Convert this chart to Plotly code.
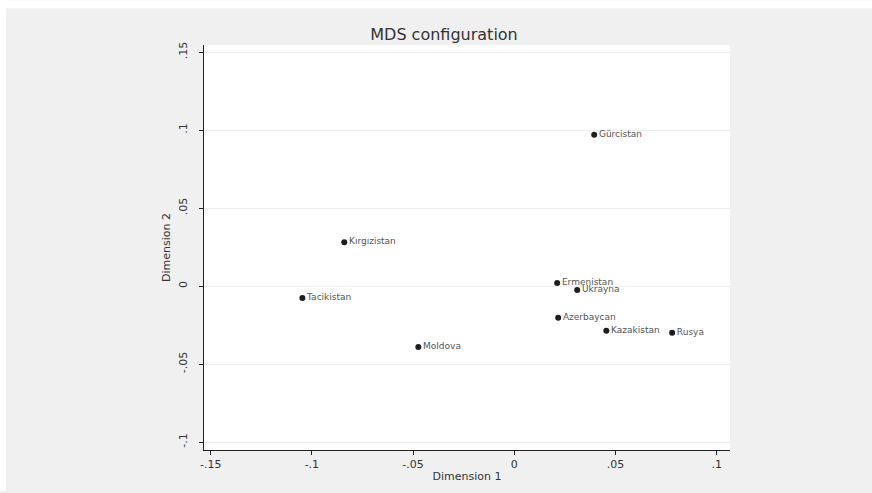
import plotly.graph_objects as go

countries = ["Gürcistan", "Kırgızistan", "Tacikistan", "Moldova", "Ermenistan",
             "Ukrayna", "Azerbaycan", "Kazakistan", "Rusya"]
dim1 = [0.0395, -0.0840, -0.1047, -0.0474, 0.0212, 0.0311, 0.0217, 0.0455, 0.0780]
dim2 = [0.0970, 0.0281, -0.0077, -0.0390, 0.0019, -0.0026, -0.0204, -0.0287, -0.0300]

x_ticks = [-0.15, -0.1, -0.05, 0, 0.05, 0.1]
x_labels = ["-.15", "-.1", "-.05", "0", ".05", ".1"]
y_ticks = [-0.1, -0.05, 0, 0.05, 0.1, 0.15]
y_labels = ["-.1", "-.05", "0", ".05", ".1", ".15"]

FONT = "DejaVu Sans, Arial, sans-serif"

fig = go.Figure()
fig.add_trace(go.Scatter(
    x=dim1, y=dim2, mode="markers+text", text=countries,
    textposition="middle right",
    textfont=dict(family=FONT, size=9, color="#555555"),
    marker=dict(color="#1e1e1e", size=6, symbol="circle"),
    cliponaxis=False, showlegend=False, hoverinfo="skip"))

W, H = 872, 493
L, R, T, B = 204, 142, 45, 41
pw, ph = W - L - R, H - T - B

def px_x(p):
    return (p - L) / pw

def px_y(p):
    return (H - B - p) / ph

fig.update_layout(
    width=W, height=H,
    margin=dict(l=L, r=R, t=T, b=B, pad=0),
    paper_bgcolor="#F0F0F0", plot_bgcolor="white",
    title=dict(text="MDS configuration", x=444 / W, xanchor="center", y=1 - 34 / H, yanchor="middle",
               font=dict(family=FONT, size=16, color="#333333")),
    font=dict(family=FONT, color="#333333"),
    xaxis=dict(range=[-0.1533, 0.1066], tickvals=x_ticks, ticktext=x_labels,
               showgrid=False, zeroline=False, showline=True, linecolor="#222222", linewidth=1,
               ticks="outside", ticklen=4, tickcolor="#222222",
               tickfont=dict(family=FONT, size=11, color="#333333"),
               title=dict(text="Dimension 1", font=dict(family=FONT, size=11, color="#333333"), standoff=2)),
    yaxis=dict(range=[-0.1051, 0.1545], tickvals=y_ticks, ticktext=y_labels,
               showgrid=True, gridcolor="#EEEEEE", gridwidth=1, zeroline=False,
               showline=True, linecolor="#222222", linewidth=1,
               ticks="outside", ticklen=4, tickcolor="#222222", tickangle=-90,
               ticklabelstandoff=8,
               tickfont=dict(family=FONT, size=11, color="#333333"),
               title=dict(text="Dimension 2", font=dict(family=FONT, size=11, color="#333333"), standoff=3)),
    shapes=[
        dict(type="rect", xref="paper", yref="paper", layer="below",
             x0=px_x(0), x1=px_x(W), y0=px_y(8), y1=px_y(0),
             fillcolor="white", line=dict(width=0)),
        dict(type="rect", xref="paper", yref="paper", layer="below",
             x0=px_x(0), x1=px_x(6), y0=px_y(H), y1=px_y(0),
             fillcolor="white", line=dict(width=0)),
    ],
)

fig.write_html("out.html", config={"displayModeBar": False},
               post_script="document.body.style.margin='0';")
